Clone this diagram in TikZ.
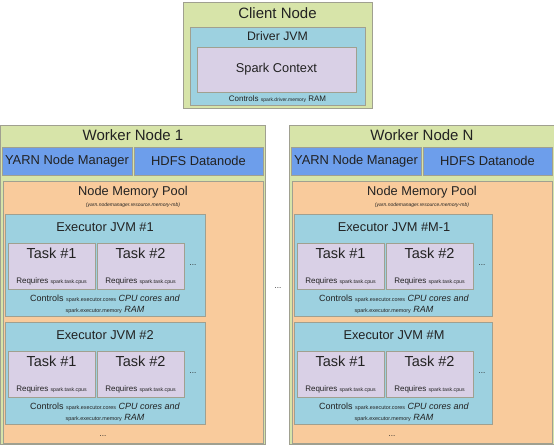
\documentclass[tikz,border=0pt]{standalone}
\usepackage{fontspec}
\setmainfont{Liberation Sans}
\definecolor{cgreen}{HTML}{D7E4A9}
\definecolor{cblue}{HTML}{6D9EEB}
\definecolor{clblue}{HTML}{9DD1E0}
\definecolor{cpeach}{HTML}{F9CB9C}
\definecolor{clav}{HTML}{D9D0E6}
\definecolor{cedge}{HTML}{A0A090}
\definecolor{ctxt}{HTML}{222222}
\tikzset{
  box/.style={draw=cedge, line width=1pt, anchor=north west, inner sep=0pt, outer sep=0pt},
  lbl/.style={inner sep=0pt, text=ctxt},
  big/.style={lbl, font=\fontsize{15}{17}\selectfont},
  mid/.style={lbl, font=\fontsize{12.8}{14}\selectfont},
  tsk/.style={lbl, font=\fontsize{14.5}{16}\selectfont},
  sml/.style={lbl, font=\fontsize{9}{10}\selectfont, align=center},
}
\newcommand{\tny}[1]{{\fontsize{5.4}{6}\selectfont #1}}
\begin{document}
\begin{tikzpicture}[x=1pt,y=-1pt]
\useasboundingbox (0,0) rectangle (554,445);
% Client node
\node[box, fill=cgreen, minimum width=189pt, minimum height=106pt] (client) at (183,2) {};
\node[big] (clientt) at (277.5,13) {Client Node};
\node[box, fill=clblue, minimum width=175pt, minimum height=78pt] (driver) at (190,27) {};
\node[mid, font=\fontsize{12.3}{14}\selectfont] (drivert) at (277.5,36) {Driver JVM};
\node[box, fill=clav, minimum width=159pt, minimum height=45pt] (sc) at (197,47) {};
\node[mid] (sct) at (sc.center) {Spark Context};
\node[sml, font=\fontsize{8}{9}\selectfont] (drivermem) at (277.5,99) {Controls {\fontsize{5}{6}\selectfont spark.driver.memory} RAM};
% Workers
\foreach \dx/\n/\ea/\eb/\ew in {0/1/\#1/\#2/200, 289/N/\#M-1/\#M/198}{
  \begin{scope}[xshift=\dx pt]
  \node[box, fill=cgreen, minimum width=265pt, minimum height=319pt] (w\n) at (0,125) {};
  \node[big, font=\fontsize{15}{17}\selectfont] (w\n t) at (133,135) {Worker Node \n};
  \node[box, fill=cblue, minimum width=130pt, minimum height=28pt] (yarn\n) at (2,147) {};
  \node[mid, font=\fontsize{12.9}{15}\selectfont] (yarn\n t) at (yarn\n.center) {YARN Node Manager};
  \node[box, fill=cblue, minimum width=129pt, minimum height=28pt] (hdfs\n) at (134,147) {};
  \node[mid, font=\fontsize{12.9}{15}\selectfont] (hdfs\n t) at (hdfs\n.center) {HDFS Datanode};
  \node[box, fill=cpeach, minimum width=260pt, minimum height=262pt] (pool\n) at (3,181) {};
  \node[mid, font=\fontsize{12.8}{15}\selectfont] (pool\n t) at (133,192) {Node Memory Pool};
  \node[lbl, font=\fontsize{5}{6}\selectfont\itshape] (pool\n s) at (133,205) {(yarn.nodemanager.resource.memory-mb)};
  \node[lbl, font=\fontsize{8}{9}\selectfont] (pool\n d) at (103,436) {...};
  \foreach \k/\y/\en in {a/214/\ea, b/322/\eb}{
    \node[box, fill=clblue, minimum width=\ew pt, minimum height=102pt] (e\n\k) at (5,\y) {};
    \node[mid] (e\n\k t) at (105,\y+13) {Executor JVM \en};
    \foreach \t/\tx in {1/8, 2/97}{
      \node[box, fill=clav, minimum width=87pt, minimum height=46pt] (t\n\k\t) at (\tx,\y+29) {};
      \node[tsk] (t\n\k\t a) at (\tx+43.5,\y+39) {Task \#\t};
      \node[lbl, font=\fontsize{8}{9}\selectfont] (t\n\k\t b) at (\tx+43.5,\y+67) {Requires {\fontsize{5.2}{6}\selectfont spark.task.cpus}};
    }
    \node[lbl, font=\fontsize{8}{9}\selectfont] (e\n\k d) at (193,\y+51) {...};
    \node[sml, font=\fontsize{9}{11}\selectfont] (e\n\k c) at (105,\y+90) {Controls \tny{spark.executor.cores} \textit{CPU cores and}\\ \tny{spark.executor.memory} \textit{RAM}};
  }
  \end{scope}
}
\node[lbl, font=\fontsize{8}{9}\selectfont] (middots) at (278,288) {...};
\end{tikzpicture}
\end{document}
